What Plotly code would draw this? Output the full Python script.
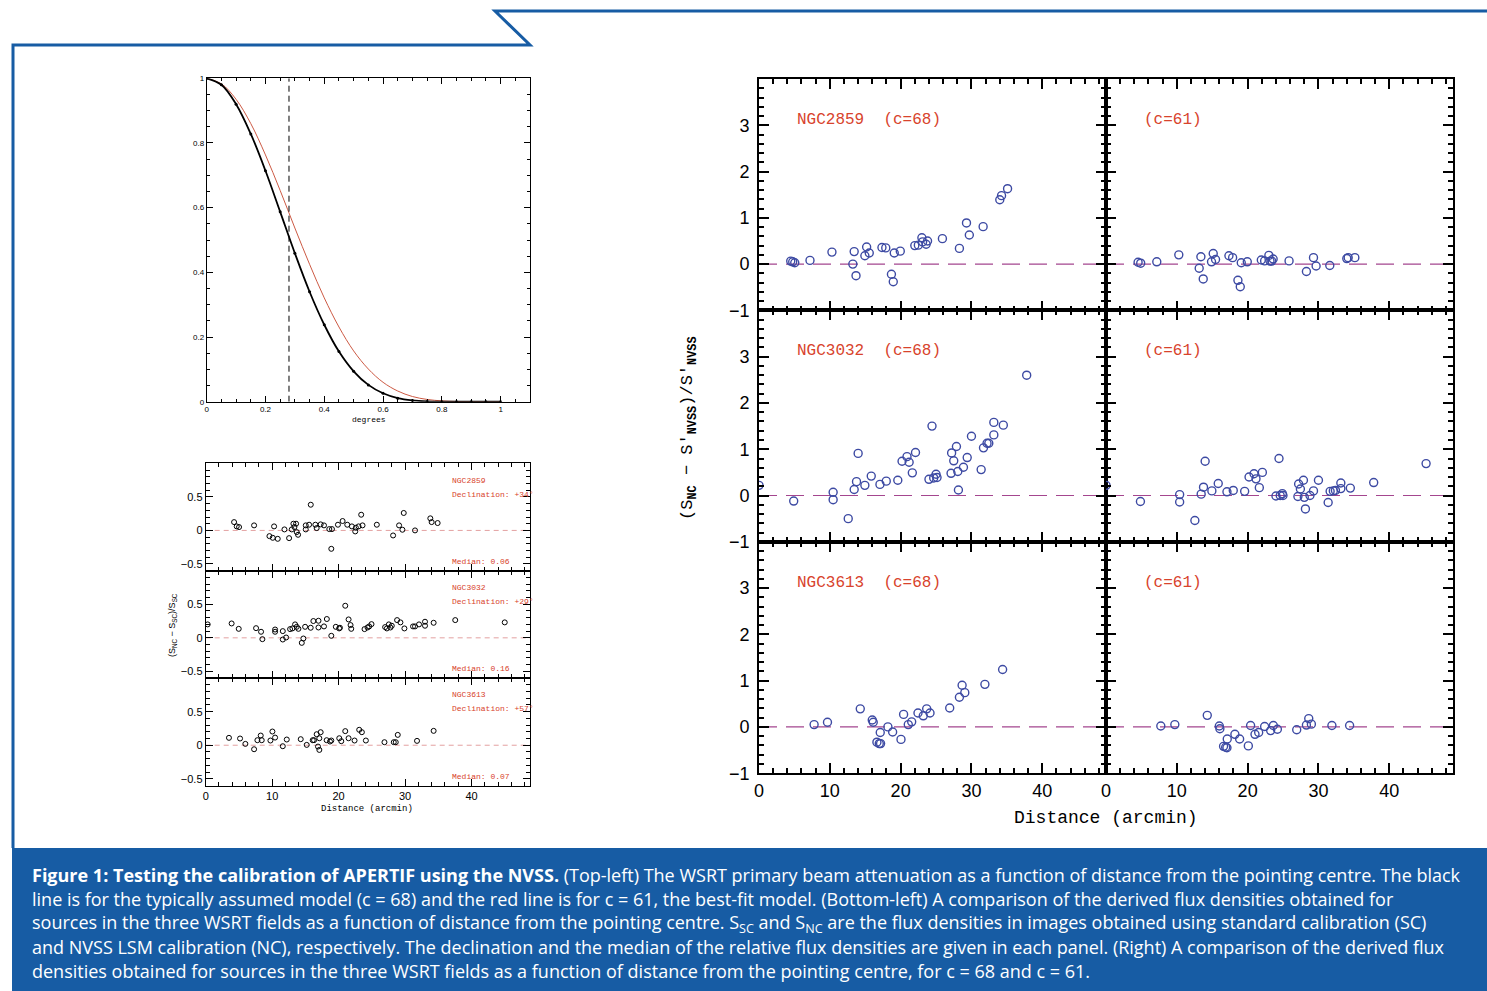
import plotly.graph_objects as go

W, H = 1487, 991
def fx(px): return px / W
def fy(py): return 1 - py / H

# ---------------- data ----------------
# primary beam attenuation
beam_deg = [0, 0.05, 0.1, 0.15, 0.2, 0.25, 0.3, 0.35, 0.4, 0.45, 0.5, 0.55, 0.6, 0.65, 0.7, 0.75, 0.8, 0.85, 0.9, 0.95, 1.0]
beam_c68 = [1, 0.980, 0.920, 0.828, 0.714, 0.587, 0.459, 0.340, 0.238, 0.155, 0.094, 0.052, 0.026, 0.011, 0.004, 0.001, 0.0002, 0, 0, 0, 0]
beam_c61 = [1, 0.983, 0.935, 0.860, 0.763, 0.653, 0.537, 0.425, 0.321, 0.231, 0.157, 0.101, 0.060, 0.033, 0.016, 0.007, 0.0025, 0.0007, 0.0001, 0, 0]
beam_cut = 0.28

# bottom-left: (S_NC - S_SC)/S_SC vs distance
bl_2859_d = [4.27, 4.67, 5.02, 7.28, 9.59, 10.09, 10.29, 10.84, 11.85, 12.55, 12.95, 13.2, 13.35, 13.6, 13.7, 13.9, 15.06, 15.06, 15.56, 15.81, 16.5, 16.7, 17.3, 17.8, 18.6, 19.0, 18.9, 19.9, 20.6, 21.3, 22.0, 22.5, 22.6, 23.0, 23.4, 23.6, 25.75, 28.2, 29.1, 29.6, 29.8, 31.5, 33.8, 34.0, 34.9]
bl_2859_r = [0.124, 0.06, 0.05, 0.075, -0.085, -0.11, 0.06, -0.125, 0.015, -0.115, 0.015, 0.1, 0.05, 0.1, -0.025, -0.065, 0.015, 0.075, 0.085, 0.383, 0.085, 0.035, 0.09, 0.075, 0.02, 0.02, -0.274, 0.085, 0.14, 0.085, 0.06, -0.015, 0.04, 0.06, 0.234, 0.075, 0.085, -0.075, 0.075, 0.01, 0.26, 0.0, 0.18, 0.124, 0.11]
bl_3032_d = [0.3, 3.9, 4.97, 7.58, 8.33, 8.53, 10.44, 10.44, 11.6, 11.6, 12.1, 12.7, 13.05, 13.45, 13.7, 13.95, 14.46, 14.7, 14.96, 15.8, 16.2, 16.97, 16.97, 17.8, 18.23, 18.9, 19.58, 20.08, 20.2, 21.0, 21.5, 21.8, 21.9, 23.9, 24.35, 24.6, 24.95, 27.0, 27.26, 27.56, 27.8, 28.0, 28.8, 29.3, 29.9, 31.2, 31.5, 32.1, 33.0, 33.0, 34.3, 37.55, 45.0]
bl_3032_r = [0.2, 0.214, 0.134, 0.144, 0.09, -0.02, 0.124, 0.09, 0.1, -0.025, 0.005, 0.13, 0.14, 0.2, 0.164, 0.134, -0.075, -0.01, 0.164, 0.15, 0.25, 0.254, 0.154, 0.17, 0.28, 0.03, 0.164, 0.14, 0.15, 0.478, 0.274, 0.19, 0.134, 0.13, 0.154, 0.17, 0.204, 0.16, 0.14, 0.2, 0.154, 0.18, 0.264, 0.23, 0.14, 0.17, 0.17, 0.2, 0.24, 0.18, 0.224, 0.264, 0.23]
bl_3613_d = [3.5, 5.17, 5.97, 7.28, 7.78, 8.28, 8.43, 9.74, 10.04, 10.44, 11.6, 12.2, 14.3, 15.2, 16.1, 16.3, 16.7, 16.9, 17.1, 17.1, 17.3, 18.2, 18.7, 18.9, 20.1, 20.4, 21.0, 21.5, 22.4, 23.1, 23.5, 24.1, 26.9, 28.3, 28.6, 28.9, 31.8, 34.3]
bl_3613_r = [0.11, 0.1, 0.02, -0.06, 0.075, 0.144, 0.075, 0.07, 0.204, 0.114, -0.015, 0.085, 0.09, 0.005, 0.075, 0.075, 0.164, -0.02, -0.07, 0.104, 0.194, 0.075, 0.055, 0.07, 0.104, 0.06, 0.21, 0.104, 0.07, 0.23, 0.194, 0.07, 0.045, 0.045, 0.045, 0.154, 0.065, 0.214]
bl_fields = ["NGC2859", "NGC3032", "NGC3613"]
bl_decl = ["+34°", "+29°", "+57°"]
bl_median = ["0.06", "0.16", "0.07"]

# right: (S_NC - S'_NVSS)/S'_NVSS vs distance, c=68 and c=61
r_2859_c68_d = [4.48, 4.76, 5.05, 7.2, 10.3, 13.25, 13.44, 13.7, 14.95, 15.2, 15.57, 17.36, 17.9, 18.7, 18.96, 19.1, 19.95, 22.0, 22.5, 23.0, 23.1, 23.6, 23.8, 25.9, 28.3, 29.3, 29.7, 31.65, 34.0, 34.25, 35.1]
r_2859_c68_v = [0.065, 0.05, 0.03, 0.08, 0.26, 0.0, 0.27, -0.25, 0.18, 0.37, 0.24, 0.36, 0.35, -0.22, -0.38, 0.24, 0.28, 0.4, 0.41, 0.57, 0.48, 0.43, 0.5, 0.55, 0.34, 0.89, 0.63, 0.81, 1.39, 1.48, 1.63]
r_2859_c61_d = [4.53, 4.9, 7.17, 10.28, 13.16, 13.4, 13.73, 14.9, 15.14, 15.47, 17.36, 17.88, 18.63, 18.96, 19.1, 19.95, 21.93, 22.4, 23.0, 23.16, 23.4, 23.6, 25.85, 28.3, 29.3, 29.67, 31.6, 34.0, 34.2, 35.14]
r_2859_c61_v = [0.04, 0.02, 0.05, 0.2, -0.09, 0.16, -0.32, 0.05, 0.23, 0.1, 0.18, 0.14, -0.35, -0.49, 0.03, 0.05, 0.09, 0.07, 0.19, 0.065, 0.065, 0.11, 0.07, -0.16, 0.14, -0.04, -0.03, 0.12, 0.14, 0.14]
r_3032_c68_d = [0.0, 4.9, 10.47, 10.47, 12.6, 13.44, 13.77, 14.0, 14.95, 15.85, 17.08, 17.97, 19.6, 20.2, 20.9, 21.2, 21.65, 22.1, 24.0, 24.43, 24.67, 25.0, 25.14, 27.12, 27.2, 27.5, 27.88, 28.07, 28.16, 28.87, 29.4, 30.0, 31.37, 31.7, 32.2, 32.45, 33.16, 33.16, 34.5, 37.8]
r_3032_c68_v = [0.22, -0.12, 0.07, -0.09, -0.5, 0.13, 0.3, 0.91, 0.22, 0.42, 0.24, 0.31, 0.33, 0.74, 0.84, 0.72, 0.49, 0.93, 0.35, 1.5, 0.38, 0.46, 0.39, 0.48, 0.92, 0.75, 1.06, 0.52, 0.12, 0.61, 0.82, 1.28, 0.56, 1.03, 1.13, 1.13, 1.31, 1.58, 1.52, 2.6]
r_3032_c61_d = [0.0, 4.86, 10.4, 10.4, 12.55, 13.44, 13.77, 14.0, 14.95, 15.85, 17.08, 17.97, 19.58, 20.2, 20.9, 21.18, 21.65, 22.08, 24.0, 24.43, 24.6, 24.9, 24.99, 27.1, 27.2, 27.45, 27.88, 28.0, 28.16, 28.8, 29.3, 30.0, 31.37, 31.65, 32.1, 32.4, 33.16, 33.16, 34.5, 37.8, 45.2]
r_3032_c61_v = [0.22, -0.13, 0.02, -0.14, -0.54, 0.03, 0.18, 0.74, 0.1, 0.26, 0.08, 0.11, 0.09, 0.4, 0.47, 0.36, 0.17, 0.5, -0.01, 0.8, 0.0, 0.04, 0.0, -0.02, 0.25, 0.14, 0.33, -0.04, -0.29, 0.0, 0.1, 0.33, -0.15, 0.09, 0.1, 0.11, 0.27, 0.15, 0.16, 0.28, 0.69]
r_3613_c68_d = [7.78, 9.67, 14.3, 15.99, 16.13, 16.65, 16.98, 17.12, 17.17, 18.2, 18.87, 20.05, 20.42, 21.08, 21.56, 22.45, 23.2, 23.68, 24.15, 26.93, 28.3, 28.68, 29.06, 31.9, 34.4]
r_3613_c68_v = [0.05, 0.1, 0.39, 0.15, 0.1, -0.33, -0.36, -0.12, -0.36, 0.0, -0.11, -0.27, 0.27, 0.05, 0.11, 0.3, 0.24, 0.39, 0.3, 0.41, 0.64, 0.9, 0.74, 0.92, 1.24]
r_3613_c61_d = [7.74, 9.72, 14.3, 16.0, 16.08, 16.6, 17.08, 17.12, 16.9, 18.2, 18.87, 20.1, 20.42, 21.04, 21.56, 22.4, 23.25, 23.63, 24.2, 26.93, 28.3, 28.63, 29.0, 31.9, 34.4]
r_3613_c61_v = [0.02, 0.05, 0.25, 0.02, -0.04, -0.42, -0.45, -0.26, -0.44, -0.16, -0.26, -0.41, 0.03, -0.16, -0.12, 0.01, -0.08, 0.03, -0.05, -0.06, 0.04, 0.18, 0.06, 0.03, 0.03]

# ---------------- styles ----------------
RED = "#d8432c"
BLUE = "#3d4aa3"
PURPLE = "#a4468f"
FRAME = "#175ca4"
MONO = "Liberation Mono"
SANS = "Liberation Sans"

fig = go.Figure()

def axis(domain, rng, dtick, minor, ticklen, minorlen, anchor, labels=True, tickvals=None,
         size=10, width=1, ticktext=None, standoff=None):
    d = dict(domain=domain, range=rng, anchor=anchor, showline=True, linecolor="black",
             linewidth=width, mirror="ticks", ticks="inside", ticklen=ticklen, tickwidth=width,
             tickcolor="black", showgrid=False, zeroline=False, showticklabels=labels,
             automargin=False,
             tickfont=dict(family=SANS, size=size, color="black"),
             minor=dict(dtick=minor, tick0=0, ticks="inside", ticklen=minorlen,
                        tickwidth=width, tickcolor="black", showgrid=False))
    if standoff is not None:
        d["ticklabelstandoff"] = standoff
    if tickvals is not None:
        d.update(tickmode="array", tickvals=tickvals)
        if ticktext is not None:
            d["ticktext"] = ticktext
    else:
        d.update(tick0=0, dtick=dtick)
    return d

def ptext(x, y, text, size, family, color="black", angle=0, xanchor="center"):
    return dict(x=fx(x), y=fy(y), xref="paper", yref="paper", text=text, showarrow=False,
                xanchor=xanchor, yanchor="middle", textangle=angle,
                font=dict(family=family, size=size, color=color))

layout = {}

# ---- beam panel (axis 1) ----
layout["xaxis"] = axis([fx(206.7), fx(530)], [0, 1.1], 0.2, 0.05, 6, 3, "y", size=8,
                       tickvals=[0, 0.2, 0.4, 0.6, 0.8, 1.0], ticktext=["0", "0.2", "0.4", "0.6", "0.8", "1"])
layout["yaxis"] = axis([fy(401.7), fy(78.3)], [0, 1], 0.2, 0.05, 6, 3, "x", size=8,
                       tickvals=[0, 0.2, 0.4, 0.6, 0.8, 1.0], ticktext=["0", "0.2", "0.4", "0.6", "0.8", "1"])
fig.add_trace(go.Scatter(x=beam_deg, y=beam_c61, mode="lines", line=dict(color="#cc5a44", width=1, shape="spline"),
                         xaxis="x", yaxis="y"))
fig.add_trace(go.Scatter(x=beam_deg, y=beam_c68, mode="lines+markers", line=dict(color="black", width=1.8, shape="spline"),
                         marker=dict(size=3, color="black"), xaxis="x", yaxis="y"))
fig.add_trace(go.Scatter(x=[beam_cut, beam_cut], y=[0, 1], mode="lines",
                         line=dict(color="black", width=1, dash="6px,4px"), xaxis="x", yaxis="y"))

annotations = [ptext(369, 419, "degrees", 8, MONO)]

# ---- bottom-left panels (axes 2,3,4) ----
bl_tops = [463.3, 570.7, 678.1]
bl_h = 107.4
bl_data = [(bl_2859_d, bl_2859_r), (bl_3032_d, bl_3032_r), (bl_3613_d, bl_3613_r)]
for i in range(3):
    n = i + 2
    top = bl_tops[i]
    layout[f"xaxis{n}"] = axis([fx(205.7), fx(530)], [0, 48.8], 10, 2, 7, 4, f"y{n}",
                               labels=(i == 2), size=11, standoff=0)
    layout[f"yaxis{n}"] = axis([fy(top + bl_h), fy(top)], [-0.6, 1.0], None, 0.1, 7, 4, f"x{n}",
                               tickvals=[-0.5, 0, 0.5], size=11)
    fig.add_trace(go.Scatter(x=[0, 48.8], y=[0, 0], mode="lines",
                             line=dict(color="#e3a0a0", width=1, dash="5px,4px"),
                             xaxis=f"x{n}", yaxis=f"y{n}"))
    fig.add_trace(go.Scatter(x=bl_data[i][0], y=bl_data[i][1], mode="markers",
                             marker=dict(symbol="circle-open", size=5, color="black", line=dict(width=1)),
                             xaxis=f"x{n}", yaxis=f"y{n}"))
    for txt, yv in [(bl_fields[i], 0.75), ("Declination: " + bl_decl[i], 0.54), ("Median: " + bl_median[i], -0.46)]:
        annotations.append(dict(x=36.8, y=yv, xref=f"x{n}", yref=f"y{n}", text=txt, showarrow=False,
                                xanchor="left", yanchor="middle", font=dict(family=MONO, size=8, color=RED)))

annotations.append(ptext(172, 625, "(S<sub>NC</sub> − S<sub>SC</sub>)/S<sub>SC</sub>", 9, SANS, angle=-90))
annotations.append(ptext(367, 809, "Distance (arcmin)", 9, MONO))

# ---- right panels (axes 5..10) ----
r_tops = [79, 310.4, 541.8]
r_h = 231.4
r_cols = [(759, 1106), (1106, 1453)]
r_fields = ["NGC2859", "NGC3032", "NGC3613"]
r_data = [
    [(r_2859_c68_d, r_2859_c68_v), (r_2859_c61_d, r_2859_c61_v)],
    [(r_3032_c68_d, r_3032_c68_v), (r_3032_c61_d, r_3032_c61_v)],
    [(r_3613_c68_d, r_3613_c68_v), (r_3613_c61_d, r_3613_c61_v)],
]
n = 5
for row in range(3):
    for col in range(2):
        top = r_tops[row]
        layout[f"xaxis{n}"] = axis([fx(r_cols[col][0]), fx(r_cols[col][1])], [0, 49], 10, 2, 10, 5, f"y{n}",
                                   labels=(row == 2), size=18, width=1.6, standoff=0)
        layout[f"yaxis{n}"] = axis([fy(top + r_h), fy(top)], [-1, 4], None, 0.2, 10, 5, f"x{n}",
                                   labels=(col == 0), tickvals=[-1, 0, 1, 2, 3], size=18, width=1.6,
                                   standoff=4)
        fig.add_trace(go.Scatter(x=[0, 49], y=[0, 0], mode="lines",
                                 line=dict(color=PURPLE, width=1.2, dash="18px,9px"),
                                 xaxis=f"x{n}", yaxis=f"y{n}"))
        d, v = r_data[row][col]
        fig.add_trace(go.Scatter(x=d, y=v, mode="markers",
                                 marker=dict(symbol="circle-open", size=8, color=BLUE, line=dict(width=1.4)),
                                 xaxis=f"x{n}", yaxis=f"y{n}"))
        label = (r_fields[row] + "  (c=68)") if col == 0 else "(c=61)"
        annotations.append(dict(x=5.1, y=3.12, xref=f"x{n}", yref=f"y{n}", text=label, showarrow=False,
                                xanchor="left", yanchor="middle", font=dict(family=MONO, size=16, color=RED)))
        n += 1

annotations.append(ptext(1106, 818, "Distance (arcmin)", 18, MONO))
annotations.append(ptext(689, 428, "(S<sub><b>NC</b></sub> − S'<sub><b>NVSS</b></sub>)/S'<sub><b>NVSS</b></sub>",
                         17, MONO, angle=-90))

# ---- caption ----
caption = [
    "<b>Figure 1: Testing the calibration of APERTIF using the NVSS.</b> (Top-left) The WSRT primary beam attenuation as a function of distance from the pointing centre. The black",
    "line is for the typically assumed model (c = 68) and the red line is for c = 61, the best-fit model. (Bottom-left) A comparison of the derived flux densities obtained for",
    "sources in the three WSRT fields as a function of distance from the pointing centre. S<sub>SC</sub> and S<sub>NC</sub> are the flux densities in images obtained using standard calibration (SC)",
    "and NVSS LSM calibration (NC), respectively. The declination and the median of the relative flux densities are given in each panel. (Right) A comparison of the derived flux",
    "densities obtained for sources in the three WSRT fields as a function of distance from the pointing centre, for c = 68 and c = 61.",
]
for i, line in enumerate(caption):
    annotations.append(ptext(30, 875 + 24 * i, line, 18, "Open Sans", color="white", xanchor="left"))

shapes = [
    dict(type="rect", xref="paper", yref="paper", x0=fx(12), x1=1, y0=0, y1=fy(848),
         fillcolor=FRAME, line=dict(width=0), layer="below"),
    dict(type="path", xref="paper", yref="paper",
         path=f"M {fx(13)},{fy(848)} L {fx(13)},{fy(45)} L {fx(530)},{fy(45)} L {fx(495)},{fy(11)} L 1,{fy(11)}",
         line=dict(color=FRAME, width=3)),
]

fig.update_layout(template="none", width=W, height=H, margin=dict(l=0, r=0, t=0, b=0, pad=0),
                  paper_bgcolor="white", plot_bgcolor="white", showlegend=False,
                  annotations=annotations, shapes=shapes, **layout)
fig.write_html("out.html")
